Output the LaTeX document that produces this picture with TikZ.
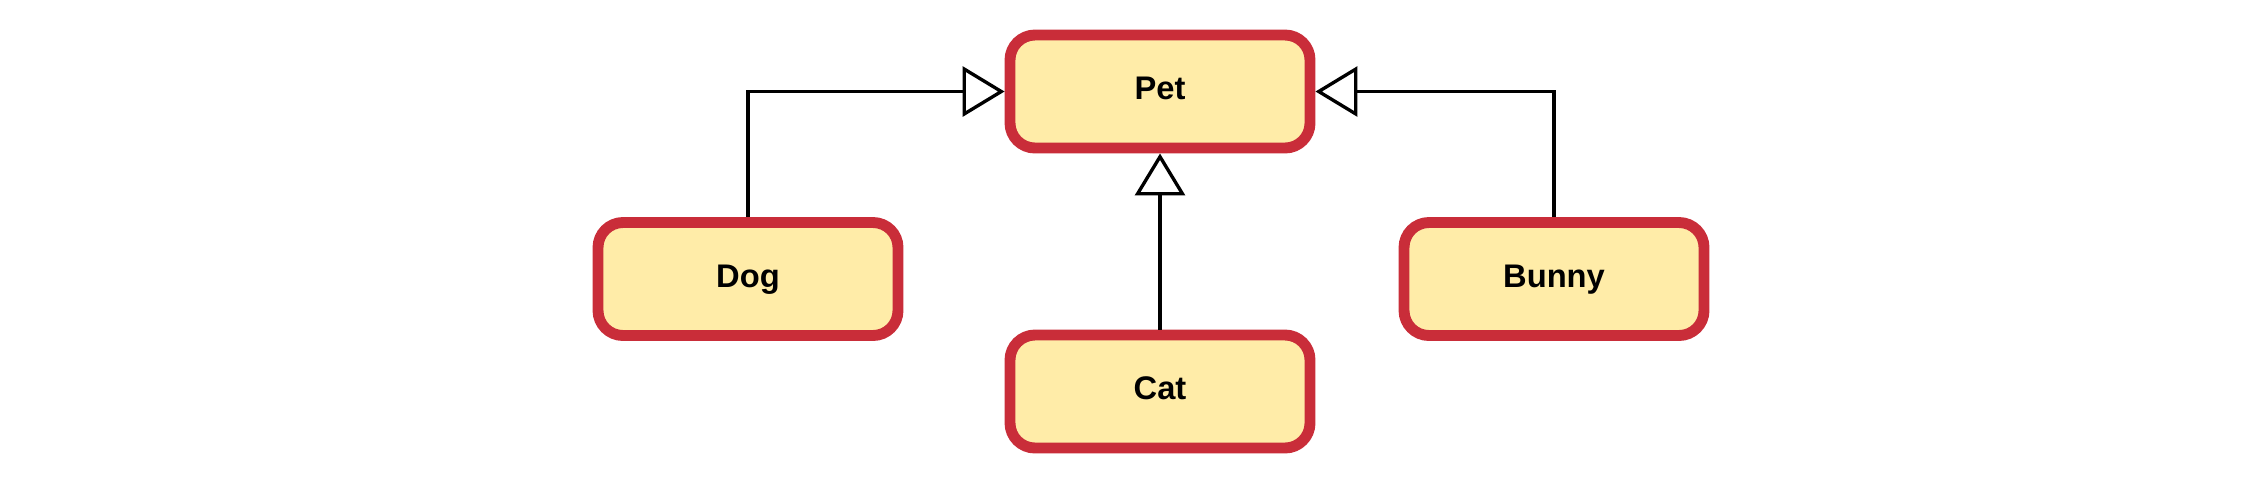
\documentclass[tikz,border=0pt]{standalone}
\usepackage{fontspec}
\setmainfont{Liberation Sans}
\usepackage{xcolor}
\usepackage{tikz}
\usetikzlibrary{arrows.meta}

\definecolor{boxfill}{HTML}{FFECA8}
\definecolor{boxline}{HTML}{C92D39}

\tikzset{
  classbox/.style={draw=boxline, fill=boxfill, line width=3.1pt, rounded corners=0.25cm,
    minimum width=3cm, minimum height=1.13cm, inner sep=0pt,
    text height=0.23cm, text depth=0.07cm,
    font=\fontsize{9.3}{11}\selectfont\bfseries},
  inherit/.style={line width=0.95pt, -{Triangle[open, length=0.42cm, width=0.5cm]}}
}

\begin{document}
\begin{tikzpicture}
\useasboundingbox (0,0) rectangle (22.41,-4.78);

\node[classbox] (pet) at (11.60, -0.915) {Pet};
\node[classbox] (dog) at (7.48, -2.79) {Dog};
\node[classbox] (bunny) at (15.54, -2.79) {Bunny};
\node[classbox] (cat) at (11.60, -3.915) {Cat};

\draw[inherit] (dog.north) |- (pet.west);
\draw[inherit] (bunny.north) |- (pet.east);
\draw[inherit] (cat.north) -- (pet.south);
\end{tikzpicture}
\end{document}
